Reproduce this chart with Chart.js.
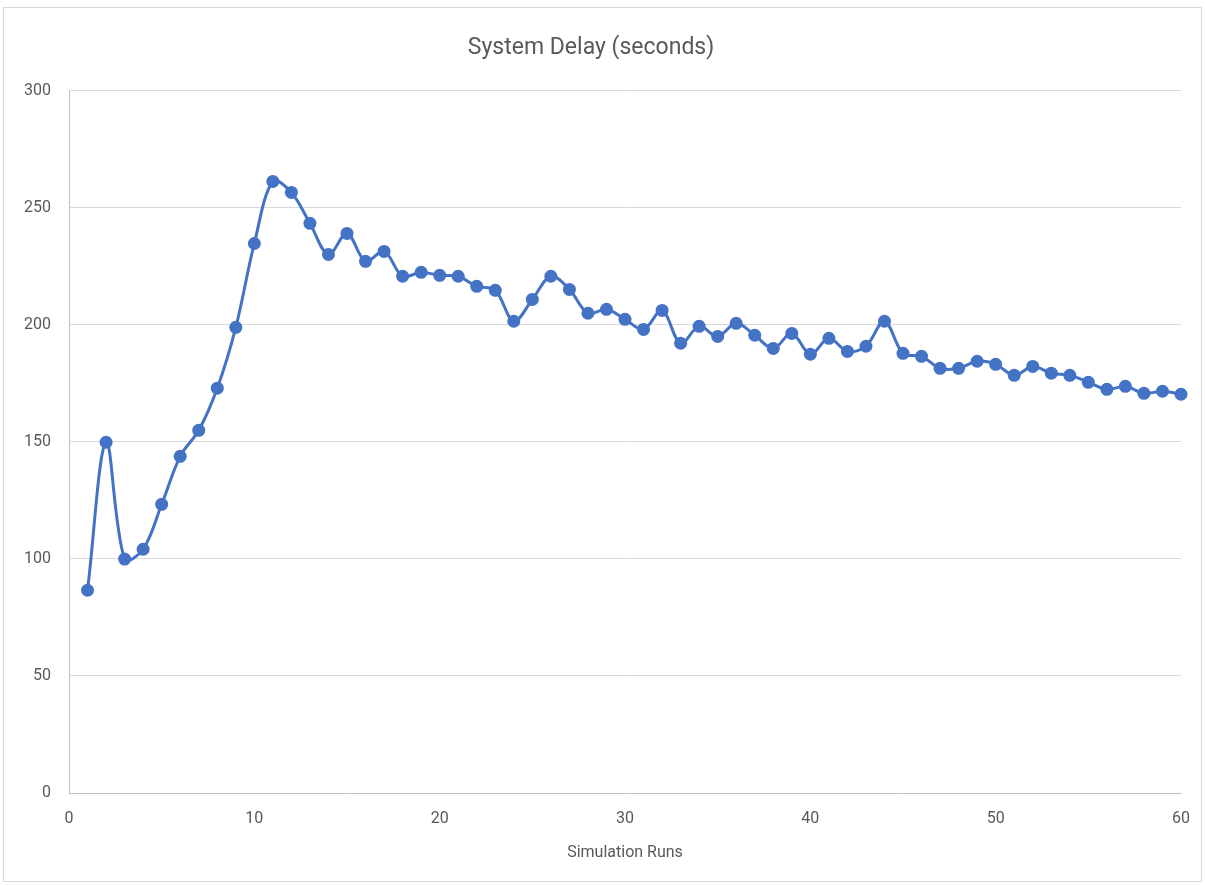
<!DOCTYPE html>
<html>
<head>
<meta charset="utf-8">
<script src="https://cdn.jsdelivr.net/npm/chart.js@4/dist/chart.umd.min.js"></script>
<style>
  html, body { margin: 0; padding: 0; background: #fff; }
  #wrap { position: relative; width: 1206px; height: 886px; }
  #frame { position: absolute; left: 3px; top: 7px; width: 1199px; height: 875px; border: 1px solid #d9d9d9; box-sizing: border-box; pointer-events: none; }
  canvas { position: absolute; left: 0; top: 0; }
</style>
</head>
<body>
<div id="wrap">
  <canvas id="c" width="1206" height="886"></canvas>
  <div id="frame"></div>
</div>
<script>
const runs = [1,2,3,4,5,6,7,8,9,10,11,12,13,14,15,16,17,18,19,20,21,22,23,24,25,26,27,28,29,30,
              31,32,33,34,35,36,37,38,39,40,41,42,43,44,45,46,47,48,49,50,51,52,53,54,55,56,57,58,59,60];
const delay = [86.6,149.8,99.9,104.1,123.3,143.8,154.9,172.9,198.9,234.7,
               261.2,256.5,243.3,230.0,239.0,227.1,231.3,220.7,222.4,221.1,
               220.7,216.4,214.7,201.5,210.8,220.7,215.1,204.9,206.6,202.3,
               198.0,206.1,192.1,199.3,195.0,200.6,195.5,189.9,196.3,187.4,
               194.2,188.6,190.8,201.5,187.8,186.5,181.4,181.4,184.4,183.1,
               178.4,182.2,179.3,178.4,175.4,172.4,173.7,170.7,171.6,170.3];
const chartTitle = 'System Delay (seconds)';
const xTitle = 'Simulation Runs';

const FONT = "'Liberation Sans Narrow', 'Roboto', 'Liberation Sans', sans-serif";
const TXT = '#595959';
const BLUE = '#4472C4';

new Chart(document.getElementById('c'), {
  type: 'line',
  data: {
    datasets: [{
      label: chartTitle,
      data: runs.map((r, i) => ({ x: r, y: delay[i] })),
      borderColor: BLUE,
      backgroundColor: BLUE,
      borderWidth: 3,
      pointRadius: 6.5,
      pointHoverRadius: 6.5,
      pointBackgroundColor: BLUE,
      pointBorderColor: BLUE,
      pointBorderWidth: 0,
      tension: 0.35,
      clip: false,
      fill: false
    }]
  },
  options: {
    responsive: false,
    animation: false,
    layout: { padding: { left: 0, right: 24, top: 0, bottom: 23 } },
    plugins: {
      legend: { display: false },
      tooltip: { enabled: false },
      title: {
        display: true,
        text: chartTitle,
        color: TXT,
        font: { family: FONT, size: 23, weight: 'normal' },
        padding: { top: 34, bottom: 29 }
      }
    },
    scales: {
      x: {
        type: 'linear',
        min: 0, max: 60,
        ticks: { stepSize: 10, color: TXT, font: { family: FONT, size: 16 }, padding: 16 },
        grid: { display: false, drawTicks: false },
        border: { display: true, color: '#bfbfbf', width: 1 },
        title: { display: true, text: xTitle, color: TXT, font: { family: FONT, size: 16 }, padding: { top: 10, bottom: 0 } },
        afterFit: (s) => { s.height = 70; }
      },
      y: {
        min: 0, max: 300,
        ticks: { stepSize: 50, color: TXT, font: { family: FONT, size: 16 }, padding: 18 },
        grid: { color: '#d9d9d9', lineWidth: 1, drawTicks: false },
        border: { display: true, color: '#bfbfbf', width: 1 },
        afterFit: (s) => { s.width = 69; }
      }
    }
  }
});
</script>
</body>
</html>
